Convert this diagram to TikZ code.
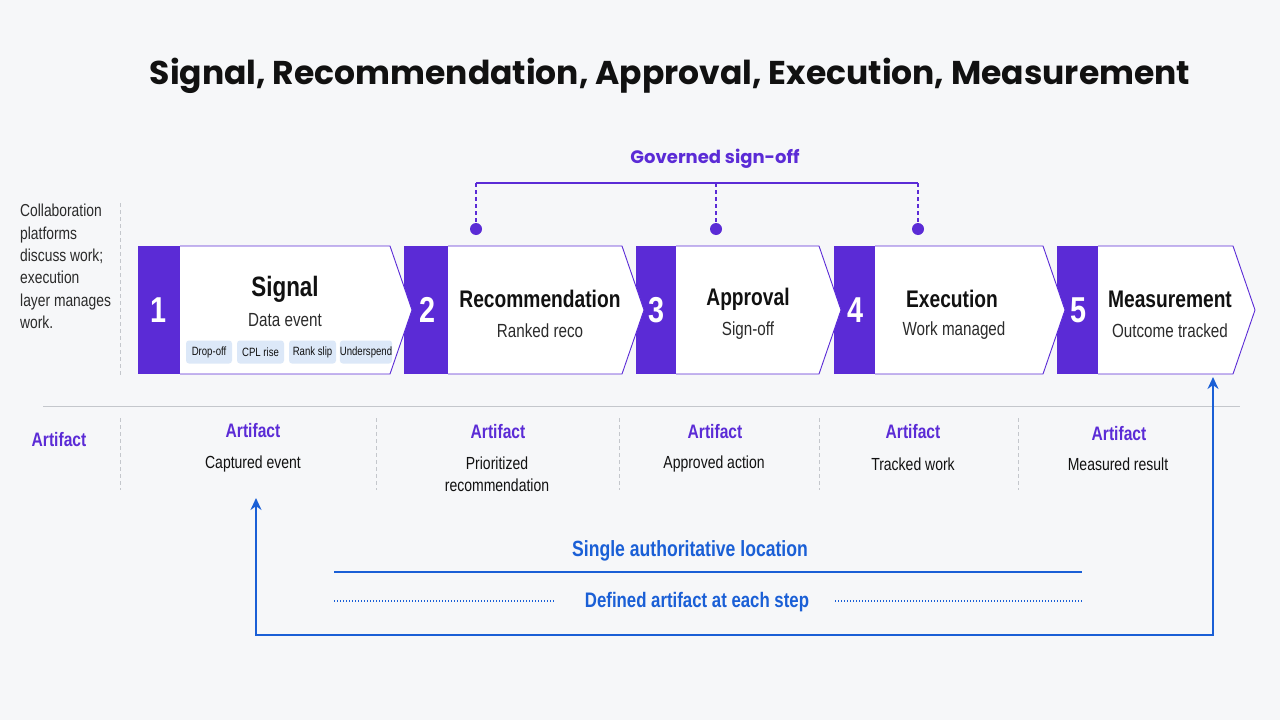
\documentclass[tikz,border=0pt]{standalone}
\usepackage{fontspec}
\setmainfont{Liberation Sans}[FakeStretch=0.8]
\newfontfamily\popfont{Poppins}
\usetikzlibrary{arrows.meta}
\definecolor{bg}{HTML}{F6F7F9}
\definecolor{pur}{HTML}{5B2BD6}
\definecolor{blu}{HTML}{1A5FD6}
\definecolor{tagbg}{HTML}{DCE8F8}
\definecolor{ink}{HTML}{111111}
\definecolor{subink}{HTML}{2B2B2B}
\definecolor{gr}{HTML}{C4C7CC}
\newcommand\fs[1]{\fontsize{#1}{#1}\selectfont}
\tikzset{
  numtxt/.style={text=white,font=\fs{36}\bfseries,inner sep=0},
  headtxt/.style={text=ink,font=\fs{24}\bfseries,inner sep=0},
  subtxt/.style={text=subink,font=\fs{19},inner sep=0},
  tagbox/.style={fill=tagbg,rounded corners=3pt,text=ink,font=\fs{12},minimum height=23pt,inner sep=0},
  arthead/.style={text=pur,font=\fs{19.5}\bfseries,inner sep=0},
  arttxt/.style={text=ink,font=\fs{17.5},inner sep=0,align=center},
  body/.style={fill=white,draw=pur,line width=0.9pt},
  sepline/.style={gr,dashed,line width=0.8pt,dash pattern=on 4pt off 3pt},
  bluetxt/.style={text=blu,font=\fs{22}\bfseries,inner sep=0},
}
\begin{document}
\begin{tikzpicture}[x=1pt,y=-1pt]
\fill[bg] (0,0) rectangle (1280,720);
\useasboundingbox (0,0) rectangle (1280,720);

% title
\node[inner sep=0] (title) at (670,76) {\resizebox{1040pt}{!}{\popfont\bfseries\color{ink}Signal, Recommendation, Approval, Execution, Measurement}};

% governed sign-off
\node[inner sep=0,text=pur,font=\popfont\fs{18}\bfseries] (gov) at (715,159) {Governed sign-off};
\coordinate (gl) at (476,183);
\coordinate (gm) at (716,183);
\coordinate (gr) at (918,183);
\coordinate (d1) at (476,229);
\coordinate (d2) at (716,229);
\coordinate (d3) at (918,229);
\draw[pur,line width=1.4pt] (gl) -- (gr);
\draw[pur,line width=1.4pt,dash pattern=on 4pt off 3pt] (gl) -- (d1) (gm) -- (d2) (gr) -- (d3);
\fill[pur] (d1) circle (6pt) (d2) circle (6pt) (d3) circle (6pt);

% left note
\node[anchor=north west,inner sep=0,align=left,text=subink,font=\fontsize{17.3}{22.4}\selectfont] (note) at (20,204)
  {Collaboration\\platforms\\discuss work;\\execution\\layer manages\\work.};
\draw[sepline] (120,203) -- (120,376);

% purple blocks
\fill[pur] (138,246) rectangle (180,374);
\fill[pur] (404,246) rectangle (448,374);
\fill[pur] (636,246) rectangle (676,374);
\fill[pur] (834,246) rectangle (875,374);
\fill[pur] (1057,246) rectangle (1098,374);
% white bodies
\draw[body] (180,246) -- (390,246) -- (412,310) -- (390,374) -- (180,374);
\draw[body] (448,246) -- (622,246) -- (644,310) -- (622,374) -- (448,374);
\draw[body] (676,246) -- (819,246) -- (841,310) -- (819,374) -- (676,374);
\draw[body] (875,246) -- (1043,246) -- (1065,310) -- (1043,374) -- (875,374);
\draw[body] (1098,246) -- (1233,246) -- (1255,310) -- (1233,374) -- (1098,374);

% chevron texts
\node[numtxt] (n1) at (159,310) {1};
\node[numtxt] (n2) at (428,310) {2};
\node[numtxt] (n3) at (657,310) {3};
\node[numtxt] (n4) at (855,310) {4};
\node[numtxt] (n5) at (1078,310) {5};

\node[headtxt,font=\fs{28}\bfseries] (h1) at (285,289) {Signal};
\node[subtxt] (s1) at (285,320) {Data event};
\node[headtxt] (h2) at (540,299) {Recommendation};
\node[subtxt] (s2) at (540,331) {Ranked reco};
\node[headtxt] (h3) at (748,299) {Approval};
\node[subtxt] (s3) at (748,331) {Sign-off};
\node[headtxt] (h4) at (952,299) {Execution};
\node[subtxt] (s4) at (954,331) {Work managed};
\node[headtxt] (h5) at (1170,299) {Measurement};
\node[subtxt] (s5) at (1170,331) {Outcome tracked};

\node[tagbox,minimum width=46pt] (t1) at (209,352) {Drop-off};
\node[tagbox,minimum width=47pt] (t2) at (260.5,352) {CPL rise};
\node[tagbox,minimum width=47pt] (t3) at (312.5,352) {Rank slip};
\node[tagbox,minimum width=51pt] (t4) at (366,352) {Underspend};

% separator
\draw[gr,line width=1pt] (43,406) -- (1240,406);

% artifact row
\node[arthead] (al) at (59,440) {Artifact};
\foreach \x in {120,376,619,819,1018} \draw[sepline] (\x,418) -- (\x,490);
\node[arthead] (a1) at (253,431) {Artifact};
\node[arttxt] (b1) at (253,464) {Captured event};
\node[arthead] (a2) at (498,432) {Artifact};
\node[arttxt,font=\fontsize{17.5}{22.5}\selectfont] (b2) at (497,474) {Prioritized\\recommendation};
\node[arthead] (a3) at (715,432) {Artifact};
\node[arttxt] (b3) at (714,464) {Approved action};
\node[arthead] (a4) at (913,432) {Artifact};
\node[arttxt] (b4) at (913,464) {Tracked work};
\node[arthead] (a5) at (1119,434) {Artifact};
\node[arttxt] (b5) at (1118,464) {Measured result};

% bottom loop
\coordinate (lpA) at (256,498);
\coordinate (lpB) at (1213,377);
\draw[blu,line width=2.3pt,{Stealth[length=12pt,width=11pt]}-{Stealth[length=12pt,width=11pt]}] (lpA) -- (256,635) -| (lpB);

\node[bluetxt] (sal) at (690,551) {Single authoritative location};
\draw[blu,line width=1.1pt] (334,572) -- (1082,572);
\node[bluetxt,font=\fs{21}\bfseries] (dae) at (697,602) {Defined artifact at each step};
\draw[blu,line width=1.1pt,dash pattern=on 1.2pt off 1.8pt] (334,601) -- (555,601);
\draw[blu,line width=1.1pt,dash pattern=on 1.2pt off 1.8pt] (835,601) -- (1082,601);
\end{tikzpicture}
\end{document}
